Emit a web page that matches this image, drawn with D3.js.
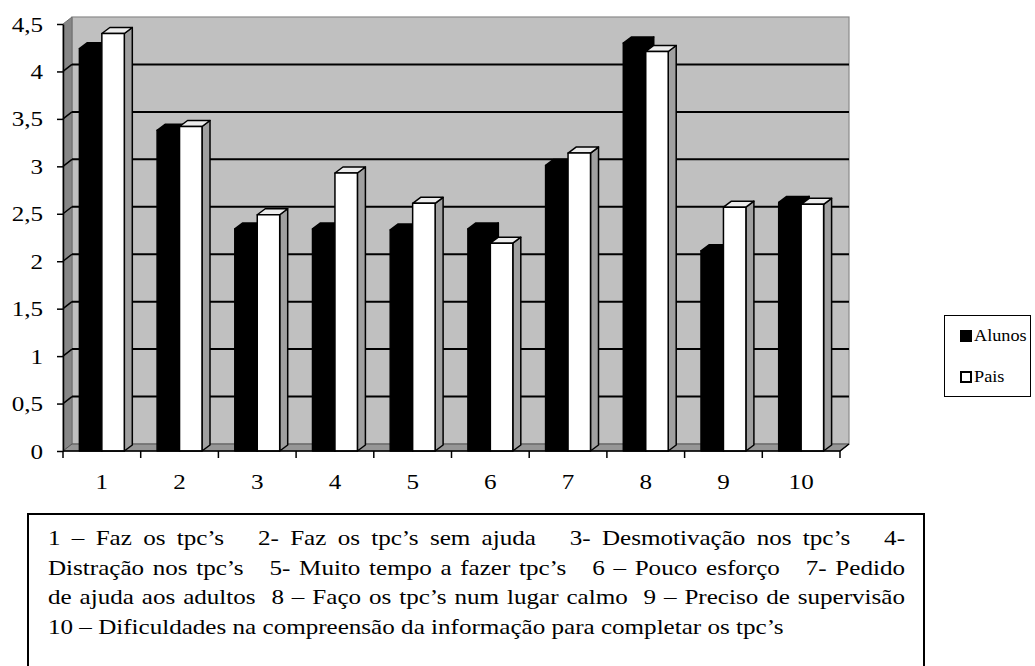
<!DOCTYPE html>
<html>
<head>
<meta charset="utf-8">
<script src="https://cdn.jsdelivr.net/npm/d3@7"></script>
<style>
  html, body { margin: 0; padding: 0; background: #fff; }
  svg { display: block; }
</style>
</head>
<body>
<svg id="chart" width="1035" height="666"></svg>
<script>
// Categories (items of the questionnaire) and mean scores per group
const categories = ["1", "2", "3", "4", "5", "6", "7", "8", "9", "10"];
const seriesNames = ["Alunos", "Pais"];
const alunos = [4.24, 3.38, 2.34, 2.34, 2.33, 2.34, 3.01, 4.30, 2.11, 2.62];
const pais   = [4.40, 3.42, 2.49, 2.93, 2.61, 2.19, 3.14, 4.21, 2.57, 2.60];
const yTicks = [0, 0.5, 1, 1.5, 2, 2.5, 3, 3.5, 4, 4.5];

// Key to the category numbers, one entry per justified line
const keyLines = [
  "1 – Faz os tpc’s   2- Faz os tpc’s sem ajuda   3- Desmotivação nos tpc’s   4-",
  "Distração nos tpc’s   5- Muito tempo a fazer tpc’s   6 – Pouco esforço   7- Pedido",
  "de ajuda aos adultos  8 – Faço os tpc’s num lugar calmo  9 – Preciso de supervisão",
  "10 – Dificuldades na compreensão da informação para completar os tpc’s"
];

// Old-style serif look: Liberation Serif set slightly wider
const FONT = "'Liberation Serif'";
const SX = 1.14;

const svg = d3.select("#chart");

function wideText(sel, x, y, str, size, anchor) {
  return sel.append("text")
    .attr("transform", `translate(${x},${y}) scale(${SX},1)`)
    .attr("text-anchor", anchor || "start")
    .style("font-family", FONT).style("font-size", size + "px")
    .attr("fill", "#000")
    .text(str);
}

// Plot frame (front plane) and 3D depth offsets
const plotLeft = 63, plotRight = 840, plotBottom = 451, plotTop = 24;
const wallDX = 9, wallDY = -7;   // depth of walls/floor
const barDX = 8, barDY = -6;     // depth of each column

const x = d3.scaleBand().domain(categories).range([plotLeft, plotRight]).paddingInner(0).paddingOuter(0);
const xs = d3.scaleBand().domain(seriesNames).range([0, x.bandwidth()]).paddingInner(0).paddingOuter(0.73);
const y = d3.scaleLinear().domain([0, 4.5]).range([plotBottom, plotTop]);

const g = svg.append("g");

// Back wall
g.append("rect")
  .attr("x", plotLeft + wallDX).attr("y", y(4.5) + wallDY)
  .attr("width", plotRight - plotLeft).attr("height", y(0) - y(4.5))
  .attr("fill", "#c0c0c0").attr("stroke", "#8a8a8a").attr("stroke-width", 1.2);

// Side wall
g.append("polygon")
  .attr("points", [[plotLeft, y(0)], [plotLeft, y(4.5)], [plotLeft + wallDX, y(4.5) + wallDY], [plotLeft + wallDX, y(0) + wallDY]].join(" "))
  .attr("fill", "#868686").attr("stroke", "#6e6e6e").attr("stroke-width", 1);

// Floor
g.append("polygon")
  .attr("points", [[plotLeft, y(0)], [plotRight, y(0)], [plotRight + wallDX, y(0) + wallDY], [plotLeft + wallDX, y(0) + wallDY]].join(" "))
  .attr("fill", "#969696").attr("stroke", "#555").attr("stroke-width", 1);

// Gridlines on back and side walls
const gridVals = yTicks.filter(v => v > 0 && v < 4.5);
g.selectAll(".grid-back").data(gridVals).join("line")
  .attr("x1", plotLeft + wallDX).attr("x2", plotRight + wallDX)
  .attr("y1", d => y(d) + wallDY).attr("y2", d => y(d) + wallDY)
  .attr("stroke", "#000").attr("stroke-width", 2);
g.selectAll(".grid-side").data(gridVals).join("line")
  .attr("x1", plotLeft).attr("x2", plotLeft + wallDX)
  .attr("y1", d => y(d)).attr("y2", d => y(d) + wallDY)
  .attr("stroke", "#000").attr("stroke-width", 1.5);

// 3D columns: side face, top face, then front face
function column(sel, x0, w, v, front, topFill, sideFill) {
  const y0 = y(0), y1 = y(v);
  const gg = sel.append("g").attr("stroke", "#000").attr("stroke-width", 1.5).attr("stroke-linejoin", "round");
  gg.append("polygon")
    .attr("points", [[x0 + w, y0], [x0 + w, y1], [x0 + w + barDX, y1 + barDY], [x0 + w + barDX, y0 + barDY]].join(" "))
    .attr("fill", sideFill);
  gg.append("polygon")
    .attr("points", [[x0, y1], [x0 + w, y1], [x0 + w + barDX, y1 + barDY], [x0 + barDX, y1 + barDY]].join(" "))
    .attr("fill", topFill);
  gg.append("rect")
    .attr("x", x0).attr("y", y1).attr("width", w).attr("height", y0 - y1)
    .attr("fill", front);
}

const bars = g.append("g");
categories.forEach((c, i) => {
  const bx = x(c);
  column(bars, bx + xs("Alunos"), xs.bandwidth(), alunos[i], "#000", "#000", "#000");
  column(bars, bx + xs("Pais"), xs.bandwidth(), pais[i], "#fff", "#ececec", "#a0a0a0");
});

// Y axis
const yAxis = d3.axisLeft(y).tickValues(yTicks).tickSize(6).tickSizeOuter(0)
  .tickFormat(d => String(d).replace(".", ","));
const ya = svg.append("g").attr("transform", `translate(${plotLeft},0)`).call(yAxis);
ya.select(".domain").attr("stroke", "#000").attr("stroke-width", 1.5);
ya.selectAll(".tick line").attr("stroke", "#000").attr("stroke-width", 1.5);
ya.selectAll(".tick text").attr("x", 0)
  .attr("transform", `translate(-20,0) scale(${SX},1)`).attr("fill", "#000")
  .style("font-family", FONT).style("font-size", "22px");

// X axis: line along the floor edge, ticks at category boundaries
svg.append("path")
  .attr("d", `M${plotLeft},${y(0)}H${plotRight}L${plotRight + wallDX},${y(0) + wallDY}`)
  .attr("fill", "none").attr("stroke", "#000").attr("stroke-width", 1.5);
const bounds = categories.map(c => x(c)).concat([x.range()[1]]);
svg.selectAll(".xtick").data(bounds).join("line")
  .attr("x1", d => d).attr("x2", d => d)
  .attr("y1", y(0)).attr("y2", y(0) + 7)
  .attr("stroke", "#000").attr("stroke-width", 1.5);
const xl = svg.append("g");
categories.forEach(c => wideText(xl, x(c) + x.bandwidth() / 2, 489, c, 22, "middle"));

// Legend
const lg = svg.append("g");
lg.append("rect").attr("x", 944.5).attr("y", 315.5).attr("width", 86).attr("height", 81)
  .attr("fill", "#fff").attr("stroke", "#000").attr("stroke-width", 1);
const legendColors = { Alunos: "#000", Pais: "#fff" };
seriesNames.forEach((s, i) => {
  const ly = 336 + i * 41;
  lg.append("rect").attr("x", 961).attr("y", ly - 5).attr("width", 10).attr("height", 10)
    .attr("fill", legendColors[s]).attr("stroke", "#000").attr("stroke-width", 2);
  wideText(lg, 974, ly + 5, s, 16);
});

// Key box with justified text (every space is stretched by the same amount)
const box = svg.append("g");
box.append("rect").attr("x", 28).attr("y", 514).attr("width", 896).attr("height", 170)
  .attr("fill", "#fff").attr("stroke", "#000").attr("stroke-width", 2);

const textLeft = 48, textRight = 905, fontSize = 22, lineH = 29.5, firstBase = 545;
const measurer = box.append("text").style("font-family", FONT).style("font-size", fontSize + "px").attr("visibility", "hidden");
function widthOf(s) { measurer.text(s); return measurer.node().getComputedTextLength() * SX; }
const spaceW = widthOf("a a") - widthOf("aa");

keyLines.forEach((line, li) => {
  // words with the number of spaces that precede each one
  const tokens = [];
  line.replace(/( *)(\S+)/g, (m, sp, w) => { tokens.push({ w, spaces: sp.length }); return m; });
  const widths = tokens.map(t => widthOf(t.w));
  const nSpaces = d3.sum(tokens, t => t.spaces);
  const natural = d3.sum(widths) + nSpaces * spaceW;
  const justify = li < keyLines.length - 1;
  const perSpace = justify && nSpaces > 0 ? spaceW + (textRight - textLeft - natural) / nSpaces : spaceW;
  let cx = textLeft;
  tokens.forEach((t, ti) => {
    cx += t.spaces * perSpace;
    wideText(box, cx, firstBase + li * lineH, t.w, fontSize);
    cx += widths[ti];
  });
});
measurer.remove();
</script>
</body>
</html>
